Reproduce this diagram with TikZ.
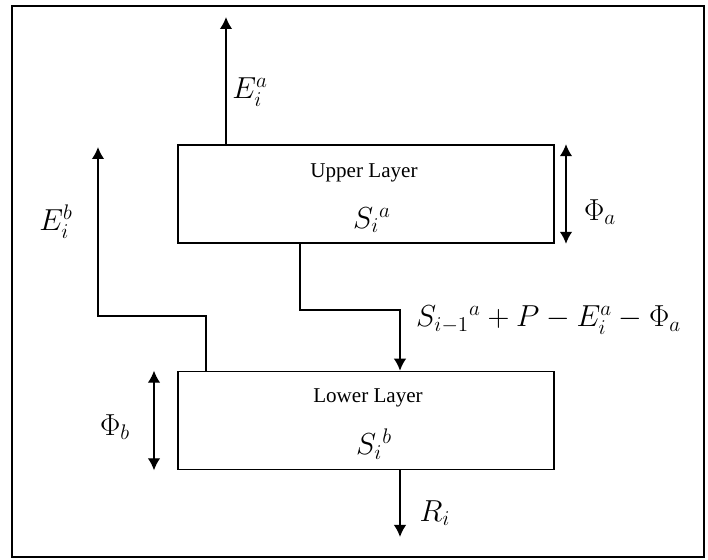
\documentclass[tikz,border=0pt]{standalone}
\usepackage{amsmath}
\usepackage{fontspec}
\setmainfont{Liberation Serif}
\usetikzlibrary{arrows.meta,positioning}

\begin{document}
\begin{tikzpicture}[x=0.02cm, y=-0.02cm,
  >={Latex[length=2.4mm,width=2.5mm]},
  layer/.style={draw, line width=0.9pt, minimum width=7.52cm, minimum height=1.96cm, inner sep=0pt},
  flow/.style={->, line width=0.9pt},
  depth/.style={<->, line width=0.8pt},
  lab/.style={font=\LARGE}]
  \useasboundingbox (0,0) rectangle (708,560);
  \draw[line width=1.6pt] (12,6) rectangle (704,557);

  % the two layers
  \node[layer] (upper) at (366,194) {};
  \node[layer] (lower) at (366,420.5) {};
  \node[font=\large] (uptext) at (364,173) {Upper Layer};
  \node[lab] (sa) at (372,220) {$S_i{}^a$};
  \node[font=\large] (lowtext) at (368,398) {Lower Layer};
  \node[lab] (sb) at (374,444) {$S_i{}^b$};

  % bends and free ends
  \coordinate (eatop) at (226,17);
  \coordinate (ebtop) at (98,147);
  \coordinate (ebfoot) at (206,316);
  \coordinate (sleft) at (300,310);
  \coordinate (sright) at (400,310);
  \coordinate (rend) at (400,537);
  \coordinate (phia) at (566,0);
  \coordinate (phib) at (154,0);

  \draw[flow] (upper.north -| eatop) -- (eatop);
  \draw[flow] (lower.north -| ebfoot) -- (ebfoot) -| (ebtop);
  \draw[flow] (upper.south -| sleft) -- (sleft) -- (sright) -- (lower.north -| sright);
  \draw[flow] (lower.south -| rend) -- (rend);
  \draw[depth] (upper.north -| phia) -- (upper.south -| phia);
  \draw[depth] (lower.north -| phib) -- (lower.south -| phib);

  \node[lab] (ea) at (250,92) {$E_i^a$};
  \node[lab] (eb) at (56,222) {$E_i^b$};
  \node[lab, anchor=west] (sflow) at (410,320) {$S_{i-1}{}^a + P - E_i^a - \Phi_a$};
  \node[lab] (pa) at (600,212) {$\Phi_a$};
  \node[lab] (pb) at (115,427) {$\Phi_b$};
  \node[lab] (ri) at (435,513) {$R_i$};
\end{tikzpicture}
\end{document}
